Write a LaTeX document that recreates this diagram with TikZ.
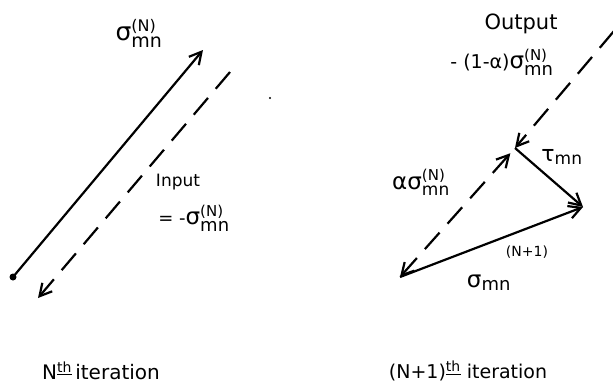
\documentclass[tikz,border=0pt]{standalone}
\usepackage{fontspec}
\usepackage{amsmath}
\setmainfont{DejaVu Sans}
\usetikzlibrary{arrows.meta,calc}
% #1 letter, #2 letter size, #3 sup text, #4 sup size, #5 sub size
\newcommand{\fs}[2]{\text{\fontsize{#1}{#1}\selectfont #2}}
\newcommand{\gsym}[5]{$\fs{#2}{#1}^{\fs{#4}{#3}}_{\fs{#5}{mn}}$}
\newcommand{\gsub}[3]{$\fs{#2}{#1}_{\fs{#3}{mn}}$}
\begin{document}
\begin{tikzpicture}[x=1pt,y=-1pt,
  >={Straight Barb[length=12pt,width=13pt,line width=2.2pt]},
  vec/.style={line width=2.2pt,->},
  dline/.style={line width=2.2pt,dash pattern=on 22pt off 12pt},
  lbl/.style={inner sep=0pt,font=\fontsize{18}{20}\selectfont}]
\useasboundingbox (0,0) rectangle (613,384);
% left panel
\coordinate (L0) at (13,277);
\coordinate (L1) at (203,50);
\coordinate (D0) at (230,72);
\coordinate (D1) at (38,298);
\coordinate (spk) at (270,98);
\fill (L0) circle (3.5pt);
\fill (spk) circle (1.2pt);
\draw[vec] (L0) -- (L1);
\draw[dline,vec] (D0) -- (D1);
\node[lbl,font=\fontsize{20}{22}\selectfont] (s1) at (139,33) {\gsym{σ}{25}{(N)}{16}{19}};
\node[lbl,font=\fontsize{17}{19}\selectfont] (inp) at (178,182) {Input};
\node[lbl,font=\fontsize{18}{20}\selectfont] (inv) at (194,218) {= -\gsym{σ}{23}{(N)}{15}{18}};
\node[lbl,font=\fontsize{20}{22}\selectfont] (it1) at (101,371) {N$^{\underline{\fs{14}{th}}}$\,iteration};
% right panel
\coordinate (A) at (400,277);
\coordinate (P) at (515,148);
\coordinate (B) at (583,207);
\coordinate (T) at (614,31);
\coordinate (Pm) at ($(P)!7pt!(A)$);
\draw[dline,vec] (T) -- (P);
\draw[dline,line width=2.2pt,<->] (A) -- (Pm);
\draw[vec] (P) -- (B);
\draw[vec] (A) -- (B);
\node[lbl,font=\fontsize{21}{23}\selectfont] (out) at (521,24) {Output};
\node[lbl,font=\fontsize{19}{21}\selectfont] (outv) at (502,62) {- (1-α)\gsym{σ}{23}{(N)}{15}{18}};
\node[lbl,font=\fontsize{18}{20}\selectfont] (tau) at (562,157) {\gsub{τ}{22}{17}};
\node[lbl,font=\fontsize{20}{22}\selectfont] (asg) at (421,182) {\fs{23}{α}\gsym{σ}{23}{(N)}{15}{17}};
\node[lbl,font=\fontsize{14}{16}\selectfont] (np1) at (527,252) {(N+1)};
\node[lbl,font=\fontsize{20}{22}\selectfont] (snew) at (489,283) {\gsub{σ}{23}{18}};
\node[lbl,font=\fontsize{19}{21}\selectfont] (it2) at (468,371) {(N+1)$^{\underline{\fs{14}{th}}}$ iteration};
\end{tikzpicture}
\end{document}
